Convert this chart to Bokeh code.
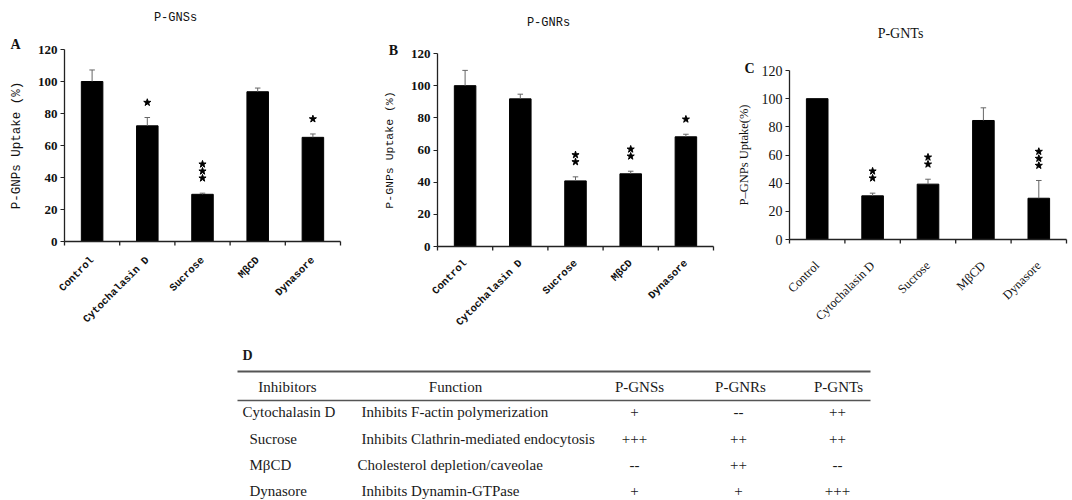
import math
from bokeh.plotting import figure
from bokeh.models import Range1d, LinearAxis, FixedTicker
from bokeh.layouts import column, row
from bokeh.embed import file_html
from bokeh.resources import INLINE
from bokeh.core.properties import value

# ---------------- data ----------------
categories = ["Control", "Cytochalasin D", "Sucrose", "MβCD", "Dynasore"]
y_ticks = [0, 20, 40, 60, 80, 100, 120]

gns_values = [100, 72.3, 29.5, 93.6, 65.1]
gns_errors = [7.2, 5.2, 0.7, 2.3, 2.1]
gns_stars = [0, 1, 3, 0, 1]

gnr_values = [100, 91.8, 40.8, 45.2, 68.2]
gnr_errors = [9.5, 2.9, 2.5, 1.6, 1.6]
gnr_stars = [0, 0, 2, 2, 1]

gnt_values = [100, 31.0, 39.3, 84.5, 29.3]
gnt_errors = [0, 1.9, 3.5, 9.0, 12.6]
gnt_stars = [0, 2, 2, 0, 3]

table_header = ["Inhibitors", "Function", "P-GNSs", "P-GNRs", "P-GNTs"]
table_inhibitors = ["Cytochalasin D", "Sucrose", "MβCD", "Dynasore"]
table_functions = ["Inhibits F-actin polymerization",
                   "Inhibits Clathrin-mediated endocytosis",
                   "Cholesterol depletion/caveolae",
                   "Inhibits Dynamin-GTPase"]
table_gns = ["+", "+++", "--", "+"]
table_gnr = ["--", "++", "++", "+"]
table_gnt = ["++", "++", "--", "+++"]

ROW_H = 335
TABLE_H = 500 - ROW_H


def make_panel(vals, errs, stars, title, letter, ylabel, fig_x, width, fl, fr, ft, fb,
               title_pos, letter_pos, bold_ticks, tick_font, tick_size, cat_font, cat_size,
               cat_style, cat_standoff, ylab_font, ylab_size, ylab_standoff,
               title_font, title_size):
    def px_to_x(px):
        return -0.5 + (px - fl) / (fr - fl) * 5.0

    def py_to_y(py):
        return (fb - py) / (fb - ft) * 120.0

    pxu = (fb - ft) / 120.0
    p = figure(width=width, height=ROW_H,
               x_range=Range1d(px_to_x(fig_x), px_to_x(fig_x + width)),
               y_range=Range1d(py_to_y(ROW_H), py_to_y(0)),
               x_axis_type=None, y_axis_type=None, output_backend="svg",
               toolbar_location=None, min_border=0)
    p.title = None
    p.outline_line_color = None
    p.background_fill_color = "white"
    p.border_fill_color = "white"

    yax = LinearAxis(fixed_location=-0.5, bounds=(0, 120),
                     ticker=FixedTicker(ticks=y_ticks), axis_line_color="#222", axis_line_width=1.3,
                     major_tick_in=0, major_tick_out=4, major_tick_line_color="#222",
                     minor_tick_line_color=None, major_label_standoff=3,
                     major_label_text_font=tick_font, major_label_text_font_size=tick_size,
                     major_label_text_color="#111",
                     major_label_text_font_style="bold" if bold_ticks else "normal",
                     axis_label=ylabel,
                     axis_label_text_font=ylab_font, axis_label_text_font_size=ylab_size,
                     axis_label_text_font_style="normal", axis_label_text_color="#111",
                     axis_label_standoff=ylab_standoff)
    p.add_layout(yax, "left")

    xlab = LinearAxis(fixed_location=0, bounds=(-0.5, 4.5),
                      ticker=FixedTicker(ticks=list(range(len(categories)))),
                      major_label_overrides={i: c for i, c in enumerate(categories)},
                      axis_line_color="#222", axis_line_width=1.3,
                      major_tick_line_color=None, minor_tick_line_color=None,
                      major_tick_in=0, major_tick_out=0,
                      major_label_orientation=math.pi / 4, major_label_standoff=cat_standoff,
                      major_label_text_font=cat_font, major_label_text_font_size=cat_size,
                      major_label_text_font_style=cat_style, major_label_text_color="#111")
    p.add_layout(xlab, "below")

    # category boundary tick marks below the x axis
    bounds_x = [i - 0.5 for i in range(len(categories) + 1)]
    p.segment(x0=bounds_x, y0=[0] * len(bounds_x), x1=bounds_x,
              y1=[-4 / pxu] * len(bounds_x), line_color="#222", line_width=1.3)

    xs = list(range(len(vals)))
    p.vbar(x=xs, top=vals, bottom=0, width=0.39, fill_color="black", line_color="black")

    ex = [x for x, e in zip(xs, errs) if e > 0]
    ev = [v for v, e in zip(vals, errs) if e > 0]
    et = [v + e for v, e in zip(vals, errs) if e > 0]
    p.segment(x0=ex, y0=ev, x1=ex, y1=et, line_color="#666", line_width=1)
    p.segment(x0=[x - 0.05 for x in ex], y0=et, x1=[x + 0.05 for x in ex], y1=et,
              line_color="#666", line_width=1)

    sx, sy = [], []
    for x, v, e, n in zip(xs, vals, errs, stars):
        for k in range(n):
            sx.append(x)
            sy.append(v + e + (15 + 7 * k) / pxu)
    p.scatter(x=sx, y=sy, marker="star", size=7.5, fill_color="black", line_color="black")

    p.text(x=[px_to_x(title_pos[0])], y=[py_to_y(title_pos[1])], text=[title],
           text_align="center", text_baseline="middle", text_font=value(title_font),
           text_font_size=title_size, text_color="#111")
    p.text(x=[px_to_x(letter_pos[0])], y=[py_to_y(letter_pos[1])], text=[letter],
           text_align="center", text_baseline="middle", text_font=value("Liberation Serif"),
           text_font_size="14px", text_font_style="bold", text_color="#111")
    return p


pa = make_panel(gns_values, gns_errors, gns_stars, "P-GNSs", "A", "P-GNPs Uptake (%)",
                0, 355, 64, 340, 49, 241, (175, 17), (15, 44),
                True, "Liberation Serif", "13px", "Liberation Mono", "10.5px", "bold", 17,
                "Liberation Mono", "12.5px", 11, "Liberation Mono", "12px")
pb = make_panel(gnr_values, gnr_errors, gnr_stars, "P-GNRs", "B", "P-GNPs Uptake (%)",
                355, 360, 437, 713, 53, 246, (548, 22), (393, 50),
                True, "Liberation Serif", "13px", "Liberation Mono", "10.5px", "bold", 15,
                "Liberation Mono", "11.5px", 12, "Liberation Mono", "12px")
pc = make_panel(gnt_values, gnt_errors, gnt_stars, "P-GNTs", "C", "P–GNPs Uptake(%)",
                715, 357, 789, 1066, 70, 239, (900, 33), (749, 68),
                False, "Liberation Serif", "14px", "Liberation Serif", "12.5px", "normal", 24,
                "Liberation Serif", "12.5px", 8, "Liberation Serif", "14px")

# ---------------- table ----------------
t = figure(width=1072, height=TABLE_H, x_range=Range1d(0, 1072), y_range=Range1d(500, ROW_H),
           x_axis_type=None, y_axis_type=None, output_backend="svg", toolbar_location=None,
           min_border=0)
t.title = None
t.outline_line_color = None
tf = value("Liberation Serif")
tc = "#1a1a1a"

t.text(x=[242], y=[355], text=["D"], text_font=tf, text_font_size="14px",
       text_font_style="bold", text_align="left", text_baseline="middle", text_color=tc)
t.segment(x0=[237], y0=[371], x1=[870], y1=[371], line_color="#555", line_width=2)
t.segment(x0=[237], y0=[400], x1=[870], y1=[400], line_color="#555", line_width=1.5)

t.text(x=[287, 455, 639, 740, 838], y=[386] * 5, text=table_header, text_font=tf,
       text_font_size="15px", text_align="center", text_baseline="middle", text_color=tc)
row_y = [411, 438, 464, 490]
t.text(x=[242, 249, 249, 249], y=row_y, text=table_inhibitors, text_font=tf,
       text_font_size="15px", text_align="left", text_baseline="middle", text_color=tc)
t.text(x=[361, 361, 357, 361], y=row_y, text=table_functions, text_font=tf,
       text_font_size="15px", text_align="left", text_baseline="middle", text_color=tc)
for cx, col in zip([634, 738, 837], [table_gns, table_gnr, table_gnt]):
    t.text(x=[cx] * 4, y=row_y, text=col, text_font=tf, text_font_size="15px",
           text_align="center", text_baseline="middle", text_color=tc)

layout = column(row(pa, pb, pc), t)
open("out.html", "w").write(file_html(layout, INLINE))
